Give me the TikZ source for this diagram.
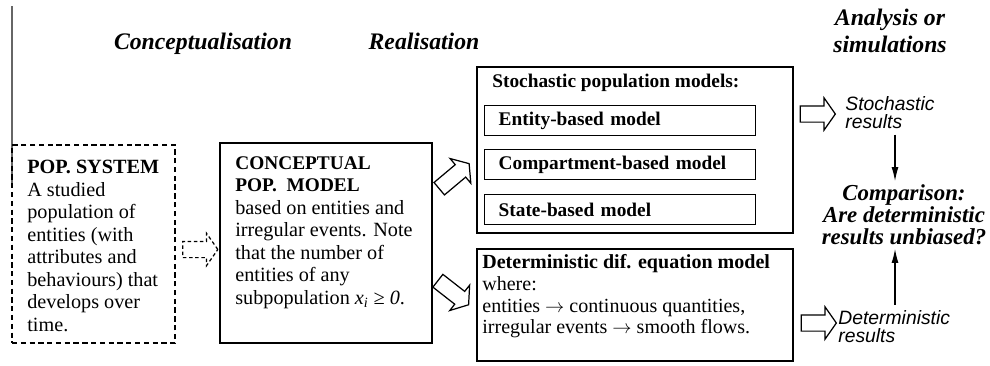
\documentclass[tikz,border=0pt]{standalone}
\usepackage{fontspec}
\setmainfont{Liberation Serif}
\newfontfamily\resfont{Liberation Sans}
\usetikzlibrary{calc, positioning, arrows.meta, shapes.arrows, fit}

\tikzset{
  box/.style={draw, line width=0.8pt, inner sep=0pt},
  dbox/.style={box, dash pattern=on 3pt off 2pt},
  body/.style={font=\fontsize{11.5}{12.8}\selectfont, align=left, inner sep=0pt, anchor=north west},
  phase/.style={font=\fontsize{13.5}{15}\selectfont\bfseries\itshape, align=center, inner sep=0pt},
  submodel/.style={draw, line width=0.8pt, anchor=north west, minimum width=5.42cm, minimum height=0.6cm,
    text width=4.86cm, inner xsep=0.28cm, inner ysep=0pt, align=left, font=\fontsize{11}{12}\selectfont\bfseries},
  hollow/.style={single arrow, draw, line width=0.7pt, inner xsep=0pt, inner ysep=0.15cm, fill=white,
    minimum height=0.7cm, single arrow head extend=0.16cm, single arrow tip angle=110},
  result/.style={font=\fontsize{11}{10.5}\selectfont\resfont\itshape, align=left, anchor=north west, inner sep=0pt},
  verdict/.style={font=\fontsize{13}{12.5}\selectfont\bfseries\itshape, align=center, inner sep=0pt},
  vlink/.style={-{Latex[length=8pt, width=4pt]}, line width=0.7pt, shorten <=3pt, shorten >=2pt},
}

\begin{document}
\begin{tikzpicture}[x=0.02cm, y=-0.02cm]
    \useasboundingbox (0,0) rectangle (990,365);

    % Phases
    \node[phase] (hconc) at (203,44) {Conceptualisation};
    \node[phase] (hreal) at (424,41) {Realisation};
    \node[phase] (hana) at (890,31) {Analysis or\\simulations};

    % Margin line
    \draw[line width=0.7pt, black!60] (12,6) -- (12,183);

    % Population system
    \node[dbox, fit={(12,145) (175,343)}] (sys) {};
    \node[body] (systxt) at (27,160) {{\fontsize{11.5}{12.8}\selectfont\bfseries POP. SYSTEM}\\A studied\\population of\\entities (with\\attributes and\\behaviours) that\\develops over\\time.};

    % Conceptual model
    \node[box, fit={(220,143) (432,343)}] (concept) {};
    \node[body] (concepttxt) at (235,156) {{\fontsize{11}{12.8}\selectfont\bfseries CONCEPTUAL}\\{\fontsize{11}{12.8}\selectfont\bfseries POP.\ \ MODEL}\\based on entities and\\irregular events. Note\\that the number of\\entities of any\\subpopulation \textit{x\textsubscript{i} ≥ 0}.};

    % Stochastic models
    \node[box, fit={(477,67) (793,233)}] (stoch) {};
    \node[body, font=\fontsize{11}{12}\selectfont\bfseries] (stochtxt) at (492,74) {Stochastic population models:};
    \node[submodel] (entity) at (484,105) {Entity-based model};
    \node[submodel] (compart) at (484,149) {Compartment-based model};
    \node[submodel] (state) at (484,194) {State-based model};

    % Deterministic model
    \node[box, fit={(477,249) (793,361)}] (det) {};
    \node[body, font=\fontsize{11.4}{12.4}\selectfont] (dettxt) at (482,254) {\textbf{Deterministic dif. equation model}\\where:\\entities $\rightarrow$ continuous quantities,\\irregular events $\rightarrow$ smooth flows.};

    % Block arrows
    \node[hollow, dash pattern=on 2pt off 1.5pt] (a0) at ($(sys.east)!0.5!(concept.west)+(0,6)$) {};
    \node[hollow, rotate=40, minimum height=0.78cm] (a1) at (452,178) {};
    \node[hollow, rotate=-38, minimum height=0.78cm] (a2) at (451,291) {};
    \node[hollow] (a3) at (815,114) {};
    \node[hollow] (a4) at (816,323) {};

    % Results
    \node[result] (stres) at (845,96) {Stochastic\\results};
    \node[result] (detres) at (838,310) {Deterministic\\results};
    \node[verdict] (cmp) at (904,215) {Comparison:\\Are deterministic\\results unbiased?};

    \draw[vlink] (stres.south -| 895,0) -- (cmp.north -| 895,0);
    \draw[vlink] (detres.north -| 895,0) -- (cmp.south -| 895,0);
\end{tikzpicture}
\end{document}
